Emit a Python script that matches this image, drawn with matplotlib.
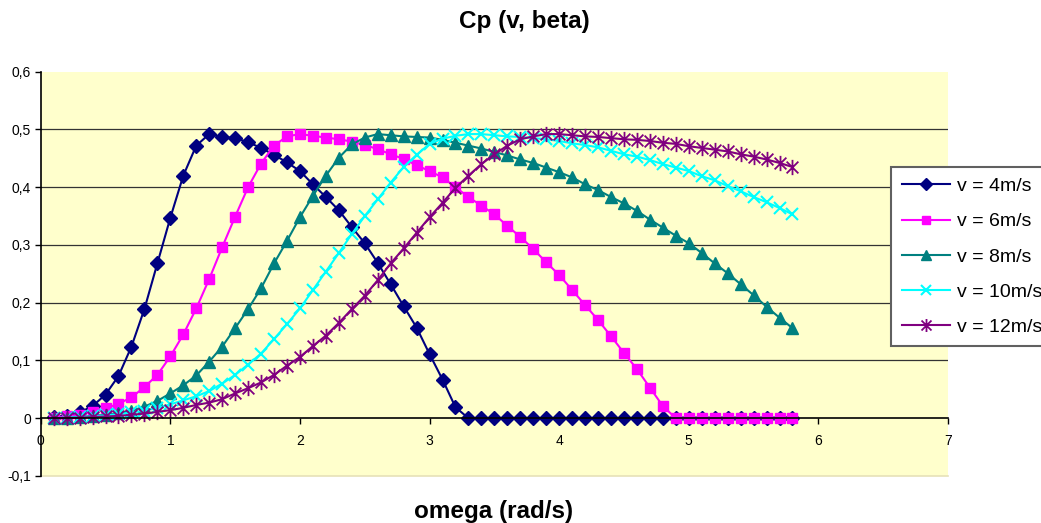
import matplotlib
matplotlib.use("Agg")
import matplotlib.pyplot as plt
from matplotlib.path import Path

plt.rcParams['font.family'] = ['Liberation Sans', 'DejaVu Sans']

omega = [0.1, 0.2, 0.3, 0.4, 0.5, 0.6, 0.7, 0.8, 0.9, 1.0,
         1.1, 1.2, 1.3, 1.4, 1.5, 1.6, 1.7, 1.8, 1.9, 2.0,
         2.1, 2.2, 2.3, 2.4, 2.5, 2.6, 2.7, 2.8, 2.9, 3.0,
         3.1, 3.2, 3.3, 3.4, 3.5, 3.6, 3.7, 3.8, 3.9, 4.0,
         4.1, 4.2, 4.3, 4.4, 4.5, 4.6, 4.7, 4.8, 4.9, 5.0,
         5.1, 5.2, 5.3, 5.4, 5.5, 5.6, 5.7, 5.8]

cp_v4 = [0.002, 0.004, 0.010, 0.021, 0.041, 0.073, 0.124, 0.189, 0.268, 0.347,
         0.420, 0.472, 0.492, 0.487, 0.485, 0.478, 0.468, 0.456, 0.443, 0.428,
         0.405, 0.383, 0.360, 0.331, 0.303, 0.269, 0.232, 0.194, 0.157, 0.111,
         0.067, 0.019, 0, 0, 0, 0, 0, 0, 0, 0,
         0, 0, 0, 0, 0, 0, 0, 0, 0, 0,
         0, 0, 0, 0, 0, 0, 0, 0]

cp_v6 = [0.001, 0.003, 0.006, 0.011, 0.017, 0.025, 0.036, 0.054, 0.075, 0.107,
         0.145, 0.190, 0.241, 0.296, 0.349, 0.400, 0.441, 0.472, 0.488, 0.492,
         0.489, 0.486, 0.483, 0.479, 0.473, 0.466, 0.457, 0.449, 0.438, 0.428,
         0.417, 0.400, 0.383, 0.368, 0.353, 0.333, 0.314, 0.293, 0.270, 0.248,
         0.222, 0.196, 0.170, 0.142, 0.113, 0.085, 0.053, 0.021, 0, 0,
         0, 0, 0, 0, 0, 0, 0, 0]

cp_v8 = [0.000, 0.001, 0.002, 0.004, 0.006, 0.009, 0.013, 0.020, 0.030, 0.043,
         0.057, 0.074, 0.098, 0.124, 0.156, 0.189, 0.225, 0.268, 0.307, 0.348,
         0.385, 0.420, 0.451, 0.474, 0.486, 0.492, 0.490, 0.488, 0.487, 0.486,
         0.482, 0.477, 0.472, 0.467, 0.461, 0.455, 0.448, 0.442, 0.434, 0.426,
         0.417, 0.405, 0.395, 0.383, 0.372, 0.359, 0.344, 0.330, 0.316, 0.303,
         0.286, 0.268, 0.251, 0.232, 0.213, 0.193, 0.174, 0.156]

cp_v10 = [0.000, 0.001, 0.002, 0.003, 0.005, 0.007, 0.010, 0.013, 0.018, 0.024,
          0.031, 0.038, 0.047, 0.060, 0.075, 0.093, 0.112, 0.137, 0.163, 0.190,
          0.222, 0.254, 0.286, 0.319, 0.350, 0.379, 0.408, 0.435, 0.456, 0.475,
          0.484, 0.489, 0.492, 0.492, 0.490, 0.488, 0.487, 0.485, 0.483, 0.480,
          0.476, 0.473, 0.469, 0.463, 0.457, 0.453, 0.447, 0.440, 0.434, 0.428,
          0.419, 0.412, 0.402, 0.393, 0.383, 0.374, 0.364, 0.353]

cp_v12 = [0.000, 0.000, 0.001, 0.002, 0.003, 0.004, 0.006, 0.008, 0.011, 0.014,
          0.018, 0.023, 0.027, 0.033, 0.043, 0.052, 0.062, 0.075, 0.091, 0.106,
          0.125, 0.143, 0.165, 0.189, 0.212, 0.239, 0.268, 0.294, 0.321, 0.348,
          0.373, 0.399, 0.420, 0.440, 0.457, 0.472, 0.483, 0.488, 0.492, 0.492,
          0.490, 0.488, 0.487, 0.485, 0.483, 0.482, 0.480, 0.477, 0.475, 0.471,
          0.468, 0.465, 0.462, 0.457, 0.453, 0.448, 0.442, 0.435]

labels = ["v = 4m/s", "v = 6m/s", "v = 8m/s", "v = 10m/s", "v = 12m/s"]
y_ticks = [-0.1, 0, 0.1, 0.2, 0.3, 0.4, 0.5, 0.6]
y_tick_labels = ["-0,1", "0", "0,1", "0,2", "0,3", "0,4", "0,5", "0,6"]
x_ticks = [0, 1, 2, 3, 4, 5, 6, 7]

# excel-like star marker: X plus a vertical bar
star = Path([(-1, -1), (1, 1), (-1, 1), (1, -1), (0, -1.3), (0, 1.3)],
            [Path.MOVETO, Path.LINETO, Path.MOVETO, Path.LINETO, Path.MOVETO, Path.LINETO])

fig = plt.figure(figsize=(10.41, 5.23), dpi=100)
ax = fig.add_axes([0.0391, 0.0899, 0.8716, 0.7730])
ax.set_facecolor("#FFFFCC")

ax.plot(omega, cp_v4, color="#000080", lw=1.5, marker="D", ms=7, label=labels[0])
ax.plot(omega, cp_v6, color="#FF00FF", lw=1.5, marker="s", ms=7, label=labels[1])
ax.plot(omega, cp_v8, color="#008080", lw=1.5, marker="^", ms=8, label=labels[2])
ax.plot(omega, cp_v10, color="#00FFFF", lw=1.5, marker="x", ms=8, mew=1.5, label=labels[3])
ax.plot(omega, cp_v12, color="#800080", lw=1.5, marker=star, ms=11, mew=1.3, label=labels[4])

ax.set_xlim(0, 7)
ax.set_ylim(-0.1, 0.6)
for g in [0.1, 0.2, 0.3, 0.4, 0.5]:
    ax.axhline(g, color="#333333", lw=0.9, zorder=0.5)

ax.spines['top'].set_visible(False)
ax.spines['right'].set_visible(False)
ax.spines['bottom'].set_position(('data', 0))
ax.spines['left'].set_linewidth(1.2)
ax.spines['bottom'].set_linewidth(1.2)
ax.axhline(-0.1, color="#E6E2B8", lw=1.2, clip_on=False, zorder=0.5)

ax.set_yticks(y_ticks)
ax.set_yticklabels(y_tick_labels)
ax.set_xticks(x_ticks)
ax.tick_params(axis='both', direction='out', length=4, width=1, labelsize=10, colors="black")
ax.tick_params(axis='x', pad=7)
ax.tick_params(axis='y', pad=3)

fig.text(0.5035, 0.958, "Cp (v, beta)", ha="center", va="center", fontsize=17.5, fontweight="bold")
fig.text(0.4745, 0.022, "omega (rad/s)", ha="center", va="center", fontsize=17.5, fontweight="bold")

leg = fig.legend(loc="upper left", bbox_to_anchor=(0.8559, 0.6807), borderaxespad=0,
                 fontsize=14, handlelength=2.5, handletextpad=0.35, labelspacing=0.9,
                 borderpad=0.55, fancybox=False, framealpha=1, markerscale=0.85)
leg.get_frame().set_edgecolor("#606060")
leg.get_frame().set_linewidth(1.5)

fig.savefig("out.png", dpi=100)
